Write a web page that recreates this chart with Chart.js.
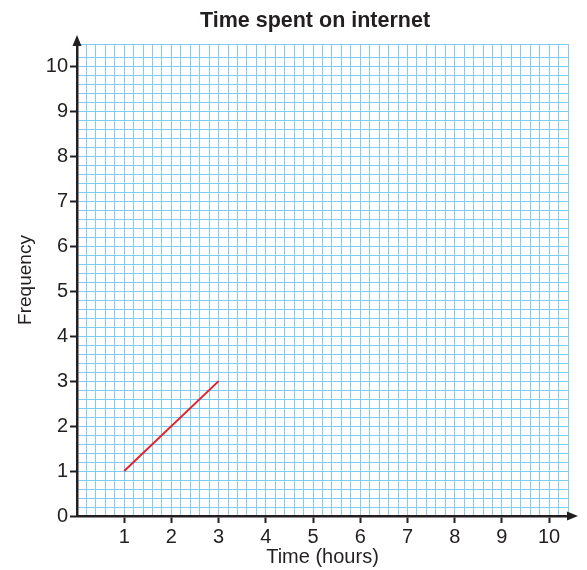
<!DOCTYPE html>
<html>
<head>
<meta charset="utf-8">
<script src="https://cdn.jsdelivr.net/npm/chart.js@4"></script>
<style>
    html, body { margin: 0; padding: 0; background: #fff; }
</style>
</head>
<body>
<canvas id="chart" width="587" height="570"></canvas>
<script>
const timeHours = [1, 3]
const frequency = [1, 3]
const chartTitle = 'Time spent on internet'
const xTitle = 'Time (hours)'
const yTitle = 'Frequency'
const xMax = 10.4
const yMax = 10.5
const gridStep = 0.2

const ink = '#231f20'
const gridBlue = '#7fcdf0'
const fontFamily = "'Liberation Sans', Arial, Helvetica, sans-serif"

const isWhole = v => Math.abs(v - Math.round(v)) < 1e-6

// title sits a little left of the plot centre, so it is drawn here
const titleText = {
    id: 'titleText',
    afterDraw(chart) {
        const { ctx } = chart
        ctx.save()
        ctx.fillStyle = ink
        ctx.font = `bold 21.5px ${fontFamily}`
        ctx.textAlign = 'center'
        ctx.textBaseline = 'middle'
        ctx.fillText(chartTitle, 315, 21)
        ctx.restore()
    }
}

// axes with arrow heads, drawn past the chart area
const arrows = {
    id: 'arrows',
    afterDraw(chart) {
        const { ctx, chartArea, scales } = chart
        const x0 = scales.x.getPixelForValue(0)
        const y0 = scales.y.getPixelForValue(0)
        ctx.save()
        ctx.strokeStyle = ink
        ctx.fillStyle = ink
        ctx.lineWidth = 2.5
        ctx.beginPath()
        ctx.moveTo(x0, chartArea.top)
        ctx.lineTo(x0, chartArea.top - 4)
        ctx.moveTo(chartArea.right, y0)
        ctx.lineTo(chartArea.right + 4, y0)
        ctx.stroke()
        ctx.beginPath()
        ctx.moveTo(x0, chartArea.top - 9)
        ctx.lineTo(x0 - 4.5, chartArea.top + 2)
        ctx.lineTo(x0 + 4.5, chartArea.top + 2)
        ctx.closePath()
        ctx.fill()
        ctx.beginPath()
        ctx.moveTo(chartArea.right + 10, y0)
        ctx.lineTo(chartArea.right - 1, y0 - 4.5)
        ctx.lineTo(chartArea.right - 1, y0 + 4.5)
        ctx.closePath()
        ctx.fill()
        ctx.restore()
    }
}

new Chart(document.getElementById('chart'), {
    type: 'line',
    data: {
        datasets: [
            {
                label: 'frequency',
                data: timeHours.map((t, i) => ({ x: t, y: frequency[i] })),
                borderColor: '#e2222a',
                borderWidth: 2,
                pointRadius: 0,
                tension: 0
            }
        ]
    },
    options: {
        responsive: false,
        animation: false,
        layout: { padding: { left: 0, right: 19, top: 44, bottom: 0 } },
        plugins: {
            legend: { display: false },
            tooltip: { enabled: false },
            title: { display: false }
        },
        scales: {
            x: {
                type: 'linear',
                min: 0,
                max: xMax,
                afterFit: s => { s.height = 54 },
                ticks: {
                    stepSize: gridStep,
                    maxTicksLimit: 200,
                    autoSkip: false,
                    maxRotation: 0,
                    padding: 2,
                    color: ink,
                    font: { family: fontFamily, size: 20 },
                    callback: v => (isWhole(v) && Math.round(v) > 0 ? String(Math.round(v)) : '')
                },
                grid: {
                    color: gridBlue,
                    lineWidth: 1,
                    drawTicks: true,
                    tickLength: 7,
                    tickWidth: 2,
                    tickColor: c => (c.tick && isWhole(c.tick.value) && c.tick.value > 0 ? ink : 'rgba(0,0,0,0)')
                },
                border: { display: true, color: ink, width: 2.5 },
                title: {
                    display: true,
                    text: xTitle,
                    color: ink,
                    font: { family: fontFamily, size: 20 },
                    padding: { top: 0, bottom: 1 }
                }
            },
            y: {
                type: 'linear',
                min: 0,
                max: yMax,
                afterFit: s => { s.width = 77 },
                ticks: {
                    stepSize: gridStep,
                    maxTicksLimit: 200,
                    autoSkip: false,
                    padding: 2,
                    color: ink,
                    font: { family: fontFamily, size: 20 },
                    callback: v => (isWhole(v) ? String(Math.round(v)) : '')
                },
                grid: {
                    color: gridBlue,
                    lineWidth: 1,
                    drawTicks: true,
                    tickLength: 7,
                    tickWidth: 2,
                    tickColor: c => (c.tick && isWhole(c.tick.value) ? ink : 'rgba(0,0,0,0)')
                },
                border: { display: true, color: ink, width: 2.5 },
                title: {
                    display: true,
                    text: yTitle,
                    color: ink,
                    font: { family: fontFamily, size: 19 },
                    padding: { top: 14, bottom: 0 }
                }
            }
        }
    },
    plugins: [arrows, titleText]
})
</script>
</body>
</html>
